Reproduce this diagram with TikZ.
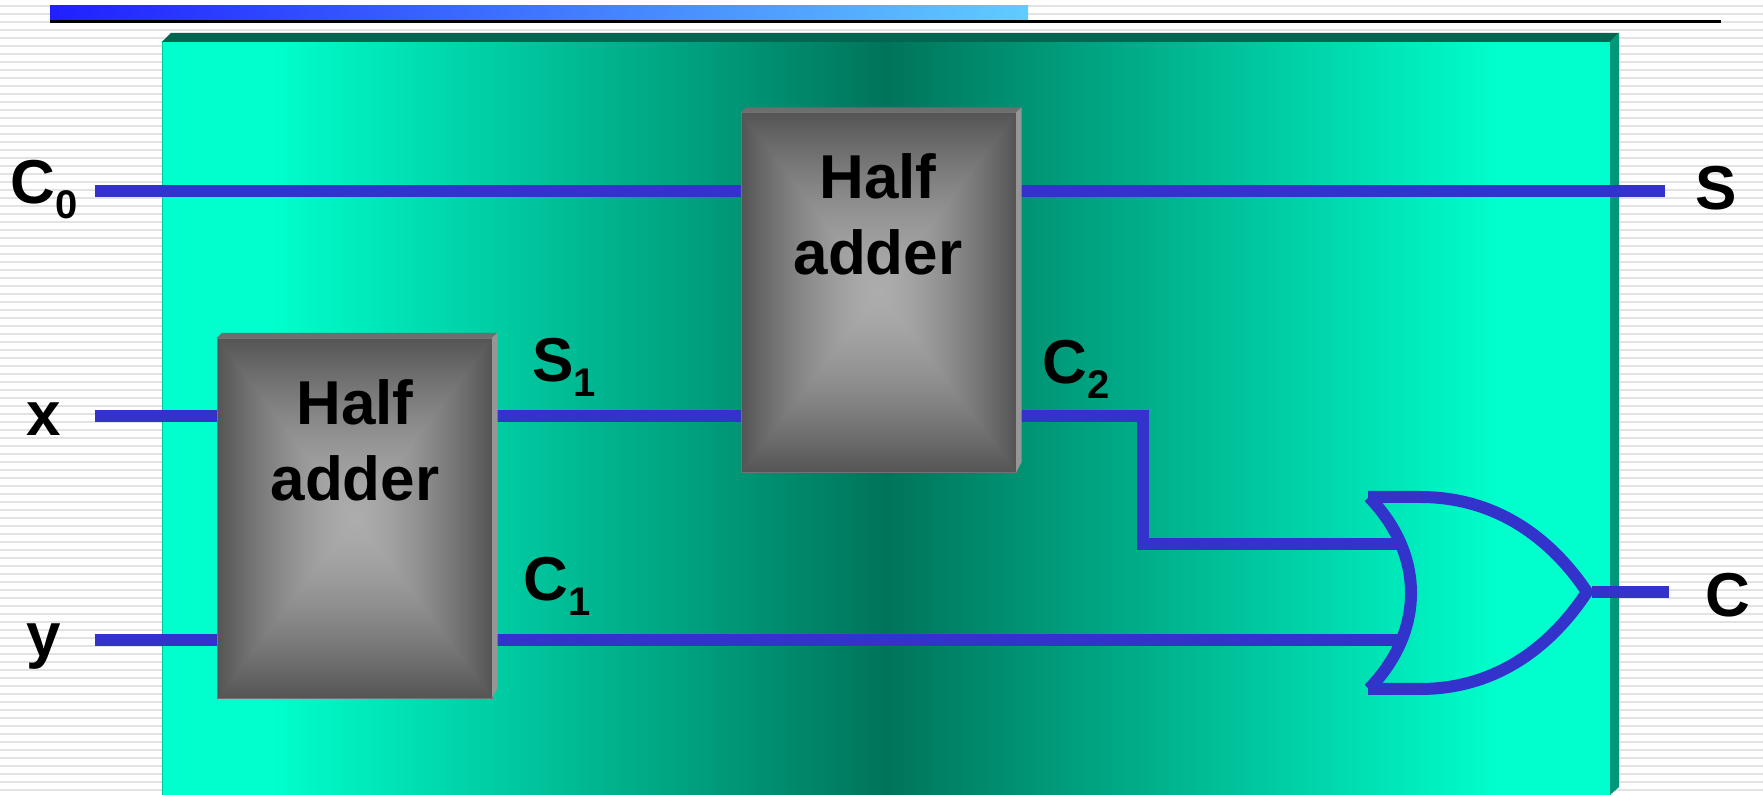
\documentclass[tikz,border=0pt]{standalone}
\usepackage{fontspec}
\usepackage{xcolor}
\setmainfont{Liberation Sans}
\usetikzlibrary{positioning}
\definecolor{PanelLight}{HTML}{00FFCC}
\definecolor{PanelDark}{HTML}{00745A}
\definecolor{PanelTop}{HTML}{006650}
\definecolor{PanelSide}{HTML}{00967A}
\definecolor{PanelEdge}{HTML}{00C8A0}
\definecolor{WireBlue}{HTML}{3333CC}
\definecolor{BarBlue}{HTML}{2020FF}
\definecolor{BarSky}{HTML}{60CCFF}
\definecolor{StripeGrey}{HTML}{E2E2E2}
\definecolor{BlockTop}{HTML}{6E6E6E}
\definecolor{BlockSide}{HTML}{969696}
\pgfdeclarefunctionalshading{blockglow}{\pgfpoint{0bp}{0bp}}{\pgfpoint{100bp}{100bp}}{}{
  50 sub abs exch 50 sub abs 2 copy lt {exch} if pop
  25 div 1.5 exp 0.345 mul 0.675 exch sub dup dup
}
\pgfdeclarehorizontalshading{panelglow}{100bp}{
  color(0bp)=(PanelLight); color(28.8bp)=(PanelLight); color(50bp)=(PanelDark);
  color(71.2bp)=(PanelLight); color(100bp)=(PanelLight)
}
\newcommand{\sublabel}[2]{#1\raisebox{-7.5pt}{\fontsize{20}{20}\selectfont #2}}
\tikzset{
  hablock/.style={
    shade,shading=blockglow,draw=black!55,line width=0.4pt,
    minimum width=137.5pt,minimum height=180pt,
    inner sep=0pt,outer sep=0pt
  },
  hatext/.style={
    font=\fontsize{31}{38}\selectfont\bfseries,
    align=center,inner sep=0pt,anchor=north
  },
  pinlabel/.style={
    font=\fontsize{31}{38}\selectfont\bfseries,
    inner sep=0pt,anchor=base west
  },
  wire/.style={draw=WireBlue,line width=6pt,line join=miter},
}

\begin{document}
\begin{tikzpicture}[x=0.5pt,y=-0.5pt]
  \useasboundingbox (0,0) rectangle (1763,795);
  \fill[white] (0,0) rectangle (1763,795);
  \foreach \k in {0,...,98}
    \draw[StripeGrey,line width=1.2pt] (0,6+8*\k) -- (1763,6+8*\k);
  % Title bar
  \shade[left color=BarBlue,right color=BarSky] (50,6) rectangle (1028,21);
  \draw[line width=1.1pt,black] (50,21.5) -- (1721,21.5);
  % Panel
  \shade[shading=panelglow] (162,42) rectangle (1610,795);
  \draw[PanelEdge,line width=0.5pt] (162,795) -- (162,42) -- (1610,42);
  \fill[PanelTop] (162,42) -- (171,33) -- (1619,33) -- (1610,42) -- cycle;
  \fill[PanelSide] (1610,42) -- (1619,33) -- (1619,787) -- (1610,795) -- cycle;
  % Blocks
  \node[hablock] (ha1) at (354.5,518) {};
  \node[hablock] (ha2) at (878.5,292.5) {};
  \node[hatext] (ha1text) at (355,379) {Half\\adder};
  \node[hatext] (ha2text) at (878,153) {Half\\adder};
  % Free wire ends
  \coordinate (c0end) at (95,191.5);
  \coordinate (xend) at (95,416);
  \coordinate (yend) at (95,640);
  \coordinate (send) at (1665,191.5);
  \coordinate (cend) at (1669,592);
  \coordinate (bend1) at (1143,416);
  \coordinate (bend2) at (1143,544);
  \coordinate (orin1) at (1400,544);
  \coordinate (orin2) at (1400,640);
  \coordinate (orout) at (1592,592);
  % Wires
  \draw[wire] (c0end) -- (c0end -| ha2.west);
  \draw[wire] (send -| ha2.east) -- (send);
  \draw[wire] (xend) -- (xend -| ha1.west);
  \draw[wire] (yend) -- (yend -| ha1.west);
  \draw[wire] (xend -| ha1.east) -- (xend -| ha2.west);
  \draw[wire] (bend1 -| ha2.east) -- (bend1) -- (bend2) -- (orin1);
  \draw[wire] (orin2 -| ha1.east) -- (orin2);
  \draw[wire] (orout) -- (cend);
  % OR gate
  \draw[wire] (1368,689) -- (1420,689) .. controls (1495,689) and (1550,648) .. (1587,592)
    .. controls (1550,537) and (1495,497) .. (1420,497) -- (1368,497);
  \draw[wire] (1369,497) .. controls (1396,525) and (1411,558) .. (1411,593)
    .. controls (1411,628) and (1396,661) .. (1369,689);
  % Block bevels
  \fill[BlockTop] (ha1.north west) -- ++(5,-5) -- ++(275,0) -- (ha1.north east) -- cycle;
  \fill[BlockSide] (ha1.north east) -- ++(5.5,-5) -- ++(0,355) -- (ha1.south east) -- cycle;
  \fill[BlockTop] (ha2.north west) -- ++(5,-5) -- ++(275,0) -- (ha2.north east) -- cycle;
  \fill[BlockSide] (ha2.north east) -- ++(5.5,-5) -- ++(0,355) -- (ha2.south east) -- cycle;
  % Pin labels
  \node[pinlabel] (c0label) at (10,204) {\sublabel{C}{0}};
  \node[pinlabel] (xlabel) at (26,436) {x};
  \node[pinlabel] (ylabel) at (26,657) {y};
  \node[pinlabel] (slabel) at (1695,210) {S};
  \node[pinlabel] (s1label) at (532,382) {\sublabel{S}{1}};
  \node[pinlabel] (c1label) at (523,601) {\sublabel{C}{1}};
  \node[pinlabel] (c2label) at (1042,384) {\sublabel{C}{2}};
  \node[pinlabel] (clabel) at (1705,617) {C};
\end{tikzpicture}
\end{document}
